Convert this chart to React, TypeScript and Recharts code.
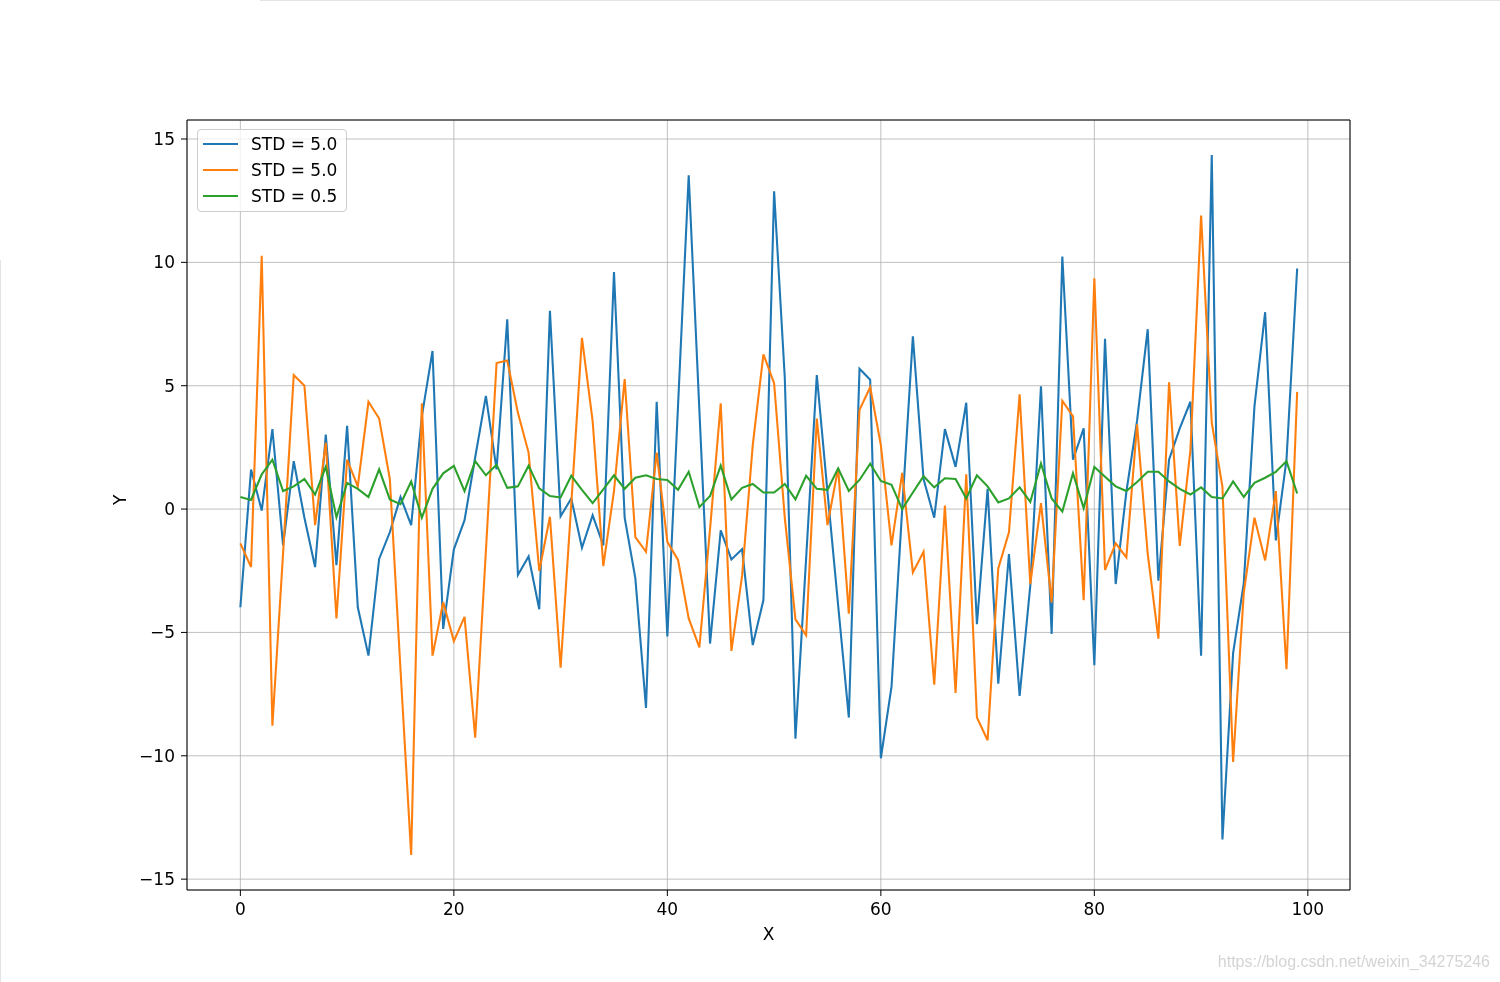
import { LineChart, Line, XAxis, YAxis, CartesianGrid, Legend, ReferenceArea } from "recharts";

// values, one per x = 0..99
const blue = [
  -3.98, 1.6, -0.06, 3.24, -1.47, 1.94, -0.35, -2.35, 3.02, -2.27,
  3.37, -3.98, -5.94, -2.02, -0.94, 0.49, -0.65, 3.76, 6.41, -4.86,
  -1.63, -0.45, 2.1, 4.59, 1.61, 7.69, -2.67, -1.92, -4.06, 8.04,
  -0.29, 0.43, -1.57, -0.25, -1.47, 9.61, -0.35, -2.8, -8.06, 4.35,
  -5.16, 4.2, 13.53, 4.0, -5.45, -0.86, -2.04, -1.63, -5.51, -3.69,
  12.88, 5.33, -9.31, -2.0, 5.43, 0.7, -3.9, -8.45, 5.69, 5.24,
  -10.1, -7.2, 0.0, 7.0, 1.22, -0.35, 3.24, 1.71, 4.31, -4.67,
  0.82, -7.08, -1.82, -7.57, -3.1, 4.98, -5.06, 10.24, 2.0, 3.27,
  -6.33, 6.9, -3.04, 0.7, 3.57, 7.29, -2.9, 2.0, 3.27, 4.35,
  -5.94, 14.35, -13.39, -5.84, -3.0, 4.16, 7.98, -1.27, 2.0, 9.75,
];

const orange = [
  -1.39, -2.35, 10.27, -8.78, -1.8, 5.43, 5.0, -0.65, 2.69, -4.43,
  2.0, 0.92, 4.35, 3.67, 1.22, -6.5, -14.02, 4.29, -5.94, -3.78,
  -5.35, -4.37, -9.27, -1.7, 5.92, 6.02, 3.9, 2.29, -2.51, -0.31,
  -6.43, 0.2, 6.94, 3.57, -2.31, 0.73, 5.27, -1.14, -1.73, 2.29,
  -1.33, -2.06, -4.43, -5.61, -0.8, 4.29, -5.75, -2.71, 2.59, 6.27,
  5.1, -0.35, -4.47, -5.12, 3.67, -0.65, 1.66, -4.24, 4.02, 4.94,
  2.59, -1.47, 1.47, -2.57, -1.73, -7.12, 0.14, -7.45, 1.41, -8.45,
  -9.37, -2.41, -0.94, 4.65, -3.04, 0.24, -3.78, 4.39, 3.76, -3.69,
  9.35, -2.47, -1.39, -1.96, 3.43, -1.82, -5.25, 5.14, -1.49, 2.39,
  11.9, 3.5, 0.9, -10.25, -3.39, -0.35, -2.08, 0.73, -6.49, 4.75,
];

const green = [
  0.49, 0.37, 1.41, 2.0, 0.73, 0.92, 1.22, 0.59, 1.71, -0.33,
  1.06, 0.82, 0.49, 1.61, 0.39, 0.2, 1.12, -0.35, 0.82, 1.45,
  1.75, 0.73, 1.94, 1.37, 1.8, 0.86, 0.92, 1.76, 0.84, 0.53,
  0.47, 1.35, 0.78, 0.24, 0.8, 1.37, 0.82, 1.27, 1.37, 1.22,
  1.18, 0.78, 1.51, 0.08, 0.53, 1.76, 0.39, 0.86, 1.02, 0.67,
  0.67, 1.02, 0.39, 1.35, 0.82, 0.78, 1.65, 0.73, 1.18, 1.84,
  1.14, 0.98, 0.0, 0.67, 1.33, 0.88, 1.25, 1.22, 0.43, 1.37,
  0.92, 0.27, 0.43, 0.88, 0.29, 1.85, 0.43, -0.1, 1.45, 0.04,
  1.71, 1.31, 0.92, 0.73, 1.1, 1.51, 1.51, 1.12, 0.82, 0.59,
  0.88, 0.49, 0.43, 1.12, 0.49, 1.06, 1.27, 1.51, 1.94, 0.63,
];

const xTicks = [0, 20, 40, 60, 80, 100];
const yTicks = [-15, -10, -5, 0, 5, 10, 15];
const seriesNames = ["STD = 5.0", "STD = 5.0", "STD = 0.5"];
const colors = ["#1f77b4", "#ff7f0e", "#2ca02c"];

const xDomain: [number, number] = [-5.0, 103.95];
const yDomain: [number, number] = [-15.44, 15.77];

const font = "'DejaVu Sans', sans-serif";
const fontSize = 17;

const data = blue.map((v, i) => ({ x: i, s1: v, s2: orange[i], s3: green[i] }));

const fmt = (v: number) => (v < 0 ? `\u2212${Math.abs(v)}` : `${v}`);

function LegendBox() {
  return (
    <div
      style={{
        width: 150,
        height: 83,
        boxSizing: "border-box",
        border: "1px solid #cccccc",
        borderRadius: 4,
        background: "rgba(255,255,255,0.8)",
        paddingTop: 1,
        fontFamily: font,
        fontSize,
        color: "#000",
      }}
    >
      {seriesNames.map((name, i) => (
        <div key={i} style={{ height: 26, display: "flex", alignItems: "center" }}>
          <span style={{ display: "inline-block", width: 35, height: 2, background: colors[i], marginLeft: 5, marginRight: 13 }} />
          <span>{name}</span>
        </div>
      ))}
    </div>
  );
}

export default function App() {
  const tickStyle = { fill: "#000", fontSize, fontFamily: font };

  return (
    <div style={{ position: "relative", width: 1484, height: 974 }}>
      <div style={{ position: "fixed", left: 260, top: 0, width: 1240, height: 1, background: "#e4e4e4" }} />
      <div style={{ position: "fixed", left: 0, top: 260, width: 1, height: 722, background: "#e4e4e4" }} />
      <LineChart width={1484} height={974} data={data} margin={{ top: 112, right: 142, bottom: 42, left: 104 }}>
        <CartesianGrid stroke="#b0b0b0" strokeWidth={0.8} />
        <XAxis
          type="number"
          dataKey="x"
          domain={xDomain}
          ticks={xTicks}
          tickFormatter={fmt}
          tick={tickStyle}
          tickSize={6}
          tickMargin={7}
          tickLine={{ stroke: "#000" }}
          axisLine={false}
          height={50}
          label={{ value: "X", position: "insideBottom", offset: 0, fill: "#000", fontSize, fontFamily: font }}
        />
        <YAxis
          type="number"
          domain={yDomain}
          ticks={yTicks}
          tickFormatter={fmt}
          tick={tickStyle}
          tickSize={6}
          tickMargin={6}
          tickLine={{ stroke: "#000" }}
          axisLine={false}
          width={75}
          label={{ value: "Y", angle: -90, position: "insideLeft", offset: 8, fill: "#000", fontSize, fontFamily: font }}
        />
        <Line type="linear" dataKey="s1" name={seriesNames[0]} stroke={colors[0]} strokeWidth={2.08} dot={false} isAnimationActive={false} />
        <Line type="linear" dataKey="s2" name={seriesNames[1]} stroke={colors[1]} strokeWidth={2.08} dot={false} isAnimationActive={false} />
        <Line type="linear" dataKey="s3" name={seriesNames[2]} stroke={colors[2]} strokeWidth={2.08} dot={false} isAnimationActive={false} />
        <ReferenceArea
          x1={xDomain[0]}
          x2={xDomain[1]}
          y1={yDomain[0]}
          y2={yDomain[1]}
          fill="none"
          stroke="#000"
          strokeWidth={1}
          ifOverflow="visible"
        />
        <Legend
          layout="horizontal"
          verticalAlign="middle"
          align="center"
          content={() => <LegendBox />}
          wrapperStyle={{ left: 189, top: 121, width: "auto", height: "auto" }}
        />
      </LineChart>
      <div
        style={{
          position: "absolute",
          right: 2,
          top: 945,
          fontFamily: "'Liberation Sans', Arial, sans-serif",
          fontSize: 16,
          color: "#d4d4d4",
          textShadow: "0 0 1px #fff",
        }}
      >
        https://blog.csdn.net/weixin_34275246
      </div>
    </div>
  );
}
